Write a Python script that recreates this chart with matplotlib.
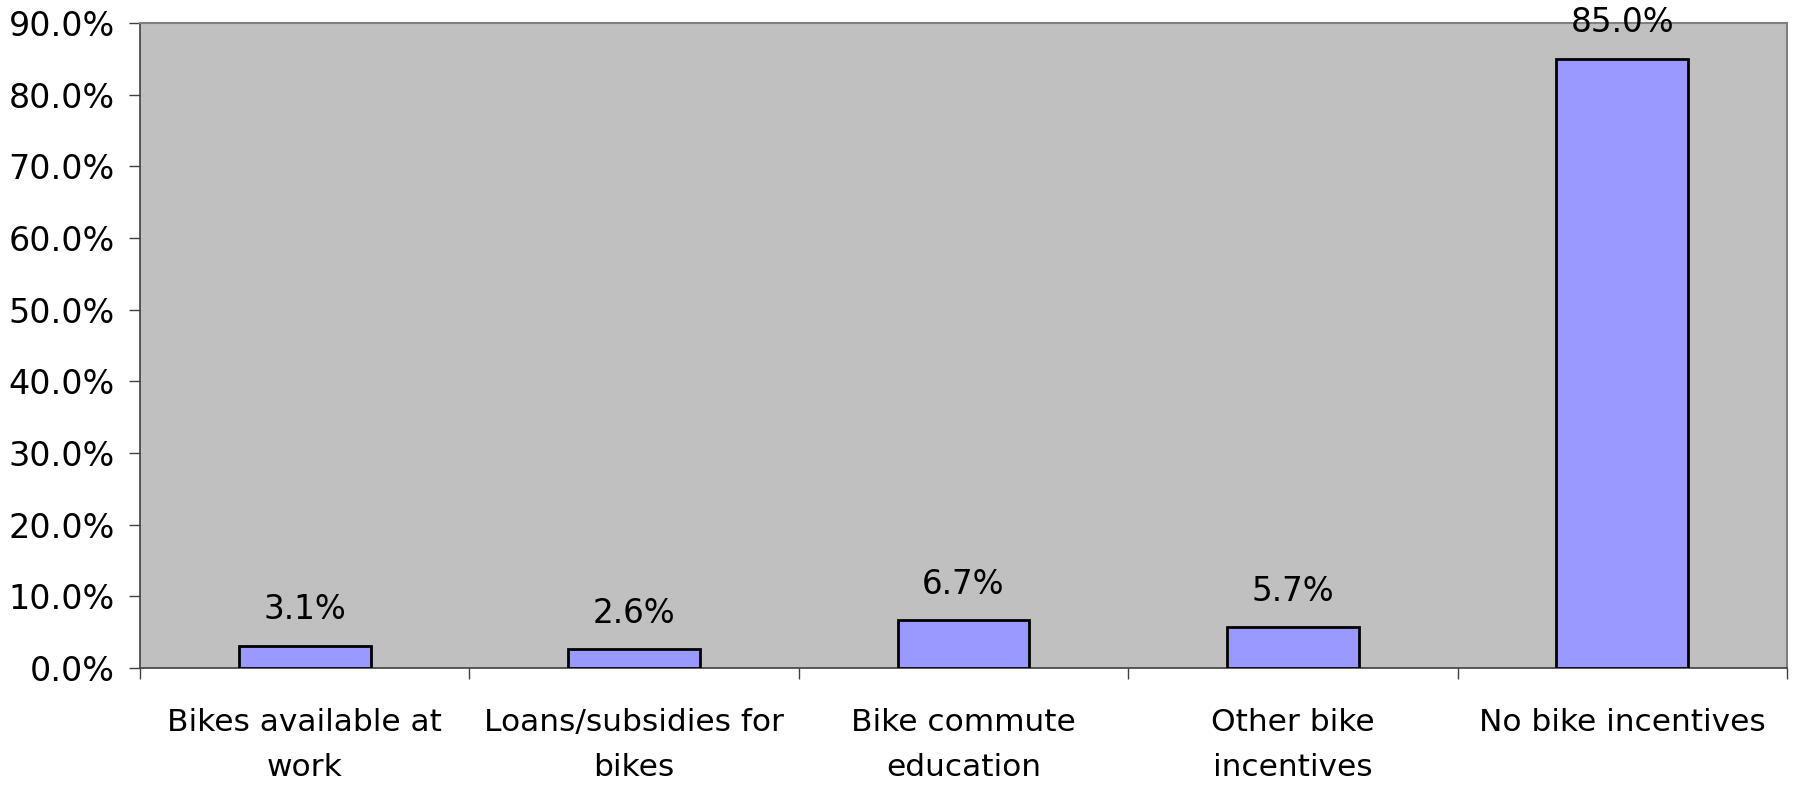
import matplotlib.pyplot as plt
from matplotlib.ticker import FuncFormatter, FixedLocator

categories = ['Bikes available at\nwork', 'Loans/subsidies for\nbikes', 'Bike commute\neducation',
              'Other bike\nincentives', 'No bike incentives']
values = [3.1, 2.6, 6.7, 5.7, 85.0]
yticks = [0, 10, 20, 30, 40, 50, 60, 70, 80, 90]

plt.rcParams['font.family'] = ['DejaVu Sans']

fig = plt.figure(figsize=(18.01, 7.88), dpi=100)
ax = fig.add_axes([0.0777, 0.1523, 0.9922 - 0.0777, 0.9708 - 0.1523])
ax.set_facecolor('#C0C0C0')

x = list(range(len(categories)))
bars = ax.bar(x, values, width=0.40, color='#9999FF', edgecolor='black', linewidth=2.0, zorder=3)

for xi, v in zip(x, values):
    ax.annotate('%.1f%%' % v, (xi, v), xytext=(0, 19), textcoords='offset points',
                ha='center', va='baseline', fontsize=23.5, color='black', zorder=4,
                annotation_clip=False)

ax.set_xlim(-0.5, len(categories) - 0.5)
ax.set_ylim(0, 90)
ax.set_yticks(yticks)
ax.yaxis.set_major_formatter(FuncFormatter(lambda v, p: '%.1f%%' % v))
ax.tick_params(axis='y', length=8, width=1, color='#404040', labelsize=24, pad=10)

# boundaries as major ticks, labels on minor ticks
ax.xaxis.set_major_locator(FixedLocator([i - 0.5 for i in range(len(categories) + 1)]))
ax.xaxis.set_major_formatter(FuncFormatter(lambda v, p: ''))
ax.xaxis.set_minor_locator(FixedLocator(x))
ax.set_xticklabels(categories, minor=True, fontsize=22.5, linespacing=1.68)
ax.tick_params(axis='x', which='minor', length=0, pad=29)
ax.tick_params(axis='x', which='major', length=8, width=1, color='#404040')

for s in ['top', 'right']:
    ax.spines[s].set_color('#808080')
    ax.spines[s].set_linewidth(1.5)
for s in ['left', 'bottom']:
    ax.spines[s].set_color('#404040')
    ax.spines[s].set_linewidth(1.2)

plt.savefig('out.png', dpi=100)
